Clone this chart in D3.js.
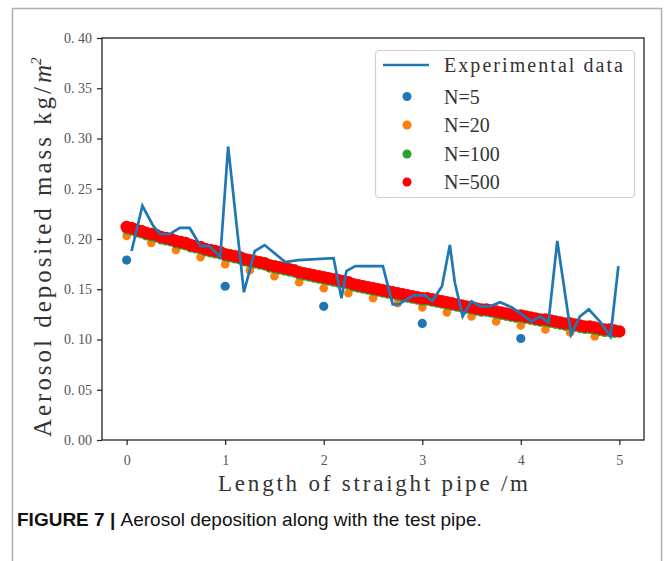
<!DOCTYPE html>
<html>
<head>
<meta charset="utf-8">
<script src="https://cdn.jsdelivr.net/npm/d3@7"></script>
<style>
  html, body { margin: 0; padding: 0; background: #fff; }
  svg { display: block; }
</style>
</head>
<body>
<svg id="chart" width="665" height="561"></svg>
<script>
// ---------------- DATA ----------------
const xTicks = [0, 1, 2, 3, 4, 5];
const yTicks = [0.00, 0.05, 0.10, 0.15, 0.20, 0.25, 0.30, 0.35, 0.40];
const yTickLabels = ["0. 00","0. 05","0. 10","0. 15","0. 20","0. 25","0. 30","0. 35","0. 40"];

// Experimental data: [length (m), deposited mass]
const expData = [
  [0.05,0.188],[0.16,0.233],[0.27,0.213],[0.34,0.205],[0.44,0.205],[0.54,0.211],[0.64,0.211],
  [0.75,0.193],[0.84,0.193],[0.95,0.182],[1.03,0.292],[1.19,0.147],[1.30,0.188],[1.40,0.194],
  [1.61,0.177],[1.74,0.179],[2.10,0.181],[2.18,0.141],[2.23,0.168],[2.32,0.173],[2.60,0.173],
  [2.70,0.135],[2.76,0.135],[2.91,0.144],[3.03,0.144],[3.10,0.138],[3.20,0.153],[3.28,0.194],
  [3.33,0.157],[3.41,0.123],[3.50,0.138],[3.59,0.133],[3.69,0.133],[3.79,0.137],[3.91,0.132],
  [4.01,0.125],[4.11,0.118],[4.20,0.123],[4.28,0.117],[4.37,0.198],[4.51,0.105],[4.60,0.123],
  [4.69,0.130],[4.81,0.117],[4.91,0.103],[4.99,0.173]
];

// N=5 segments (x step 1 m)
const n5Step = 1.0;
const n5 = [0.179, 0.153, 0.133, 0.116, 0.101];

// N=20 segments (x step 0.25 m)
const n20Step = 0.25;
const n20 = [0.203,0.196,0.189,0.182,0.175,0.169,0.163,0.157,0.151,0.146,
             0.141,0.136,0.132,0.127,0.123,0.118,0.114,0.110,0.107,0.103];

// N=100 segments (x step 0.05 m)
const n100Step = 0.05;
const n100 = [
  0.209,0.208,0.206,0.205,0.203,0.202,0.201,0.199,0.198,0.197,
  0.195,0.194,0.193,0.191,0.190,0.189,0.187,0.186,0.185,0.184,
  0.182,0.181,0.180,0.179,0.177,0.176,0.175,0.174,0.173,0.171,
  0.170,0.169,0.168,0.167,0.166,0.164,0.163,0.162,0.161,0.160,
  0.159,0.158,0.157,0.156,0.155,0.154,0.152,0.151,0.150,0.149,
  0.148,0.147,0.146,0.145,0.144,0.143,0.142,0.141,0.140,0.139,
  0.138,0.138,0.137,0.136,0.135,0.134,0.133,0.132,0.131,0.130,
  0.129,0.128,0.127,0.127,0.126,0.125,0.124,0.123,0.122,0.121,
  0.121,0.120,0.119,0.118,0.117,0.117,0.116,0.115,0.114,0.113,
  0.113,0.112,0.111,0.110,0.110,0.109,0.108,0.107,0.107,0.106
];

// N=500 (dense band, read every 0.05 m)
const n500Step = 0.05;
const n500 = [
  0.212,0.211,0.209,0.208,0.206,0.205,0.204,0.202,0.201,0.200,
  0.198,0.197,0.196,0.194,0.193,0.192,0.190,0.189,0.188,0.187,
  0.185,0.184,0.183,0.182,0.180,0.179,0.178,0.177,0.176,0.174,
  0.173,0.172,0.171,0.170,0.169,0.167,0.166,0.165,0.164,0.163,
  0.162,0.161,0.160,0.159,0.158,0.157,0.155,0.154,0.153,0.152,
  0.151,0.150,0.149,0.148,0.147,0.146,0.145,0.144,0.143,0.142,
  0.141,0.141,0.140,0.139,0.138,0.137,0.136,0.135,0.134,0.133,
  0.132,0.131,0.130,0.130,0.129,0.128,0.127,0.126,0.125,0.124,
  0.124,0.123,0.122,0.121,0.120,0.120,0.119,0.118,0.117,0.116,
  0.116,0.115,0.114,0.113,0.113,0.112,0.111,0.110,0.110,0.109,
  0.108
];

const legendLabels = ["Experimental data", "N=5", "N=20", "N=100", "N=500"];
const colors = { exp: "#1f77b4", n5: "#1f77b4", n20: "#ff7f0e", n100: "#2ca02c", n500: "#ff0000" };

// ---------------- CHART ----------------
const svg = d3.select("#chart");
const plot = { left: 102, right: 644, top: 38, bottom: 440 };

const x = d3.scaleLinear().domain([-0.25, 5.25]).range([plot.left, plot.right]);
const y = d3.scaleLinear().domain([0, 0.40]).range([plot.bottom, plot.top]);

const serif = "'Liberation Serif', 'DejaVu Serif', serif";

// outer figure frame
svg.append("path")
  .attr("d", `M12.5,561 L12.5,8.5 L661.5,8.5 L661.5,561`)
  .attr("fill", "none").attr("stroke", "#b0b0b0").attr("stroke-width", 1.5);

// clip
svg.append("defs").append("clipPath").attr("id", "clip")
  .append("rect").attr("x", plot.left).attr("y", plot.top)
  .attr("width", plot.right - plot.left).attr("height", plot.bottom - plot.top);

const g = svg.append("g").attr("clip-path", "url(#clip)");

function scatter(vals, step, color, r) {
  g.append("g").selectAll("circle").data(vals).join("circle")
    .attr("cx", (d, i) => x(i * step))
    .attr("cy", d => y(d))
    .attr("r", r)
    .attr("fill", color);
}
scatter(n5, n5Step, colors.n5, 4.6);
scatter(n20, n20Step, colors.n20, 4.3);
scatter(n100, n100Step, colors.n100, 4.5);
scatter(n500, n500Step, colors.n500, 6.2);

g.append("path")
  .datum(expData)
  .attr("d", d3.line().x(d => x(d[0])).y(d => y(d[1])))
  .attr("fill", "none")
  .attr("stroke", colors.exp)
  .attr("stroke-width", 2.7)
  .attr("stroke-linejoin", "miter");

// axes
const xAxis = d3.axisBottom(x).tickValues(xTicks).tickSize(5).tickPadding(10).tickFormat(d3.format("d"));
const yAxis = d3.axisLeft(y).tickValues(yTicks).tickSize(5).tickPadding(5).tickFormat((d, i) => yTickLabels[i]);

const gx = svg.append("g").attr("transform", `translate(0,${plot.bottom})`).call(xAxis);
const gy = svg.append("g").attr("transform", `translate(${plot.left},0)`).call(yAxis);
[gx, gy].forEach(a => {
  a.select(".domain").remove();
  a.selectAll(".tick line").attr("stroke", "#222").attr("stroke-width", 1.2);
  a.selectAll(".tick text").attr("font-family", serif).attr("font-size", 14).attr("fill", "#555");
});

// frame
svg.append("rect")
  .attr("x", plot.left).attr("y", plot.top)
  .attr("width", plot.right - plot.left).attr("height", plot.bottom - plot.top)
  .attr("fill", "none").attr("stroke", "#222").attr("stroke-width", 1.3);

// axis titles
const xTitle = "Length of straight pipe /m";
const xTitleW = 310;
svg.append("text")
  .attr("x", (plot.left + plot.right) / 2 - xTitleW / 2).attr("y", 491)
  .attr("textLength", xTitleW).attr("lengthAdjust", "spacing")
  .attr("font-family", serif).attr("font-size", 23).attr("fill", "#333")
  .text(xTitle);

const yMain = "Aerosol deposited mass kg/";
const yt = svg.append("text")
  .attr("transform", `translate(51,437) rotate(-90)`)
  .attr("font-family", serif).attr("font-size", 25).attr("fill", "#333");
yt.append("tspan").attr("textLength", 350).attr("lengthAdjust", "spacing").text(yMain);
yt.append("tspan").attr("font-style", "italic").attr("font-size", 25).attr("dx", 1).text("m");
yt.append("tspan").attr("dy", -10).attr("font-size", 15).attr("font-style", "italic").text("2");

// legend
const lg = svg.append("g");
lg.append("rect")
  .attr("x", 375.5).attr("y", 50.5).attr("width", 259).attr("height", 147)
  .attr("rx", 4).attr("fill", "#fff").attr("stroke", "#d0d0d0").attr("stroke-width", 1.2);
const rowY = [65, 96.5, 125, 154, 182];
lg.append("line").attr("x1", 383).attr("x2", 429).attr("y1", rowY[0]).attr("y2", rowY[0])
  .attr("stroke", colors.exp).attr("stroke-width", 2.6);
const dotColors = [colors.n5, colors.n20, colors.n100, colors.n500];
dotColors.forEach((c, i) => {
  lg.append("circle").attr("cx", 407).attr("cy", rowY[i + 1]).attr("r", 4.5).attr("fill", c);
});
legendLabels.forEach((t, i) => {
  const txt = lg.append("text").attr("x", 444).attr("y", rowY[i] + 7)
    .attr("font-family", serif).attr("font-size", 20).attr("fill", "#333")
    .text(t);
  if (i === 0) txt.attr("textLength", 179).attr("lengthAdjust", "spacing");
});

// caption
const cap = svg.append("text").attr("x", 17).attr("y", 526)
  .attr("font-family", "'Liberation Sans', Arial, sans-serif").attr("font-size", 19).attr("fill", "#111");
cap.append("tspan").attr("font-weight", "bold").text("FIGURE 7 | ");
cap.append("tspan").text("Aerosol deposition along with the test pipe.");
</script>
</body>
</html>
